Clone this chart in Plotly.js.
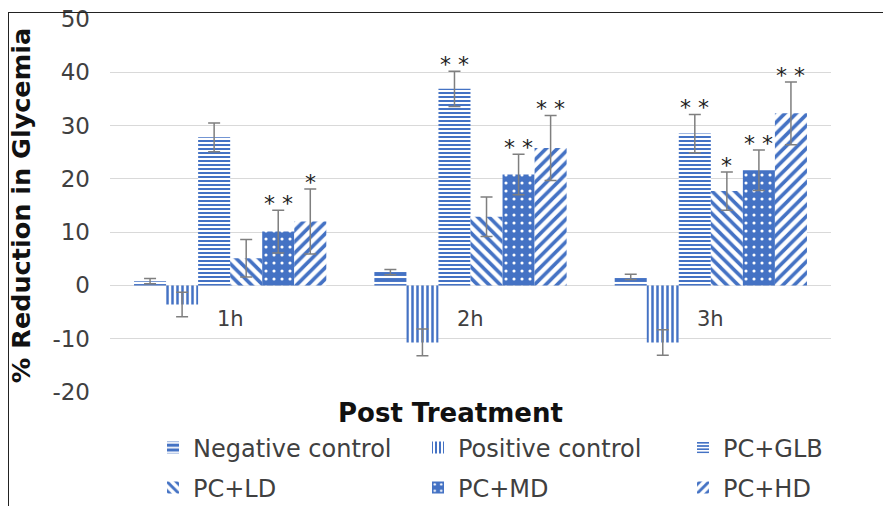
<!DOCTYPE html>
<html>
<head>
<meta charset="utf-8">
<script src="https://cdn.plot.ly/plotly-3.0.1.min.js"></script>
<style>
  html, body { margin: 0; padding: 0; background: #fff; overflow: hidden; }
  #wrap { position: relative; width: 883px; height: 506px; }
  #chart { position: absolute; left: 0; top: 0; width: 883px; height: 506px; }
  #frame { position: absolute; left: 8px; top: 12px; right: -2px; bottom: -2px;
           border-top: 1.5px solid #222; border-left: 1.5px solid #222; pointer-events: none; }
</style>
</head>
<body>
<div id="wrap"><div id="chart"></div><div id="frame"></div></div>
<script>
// ---- data ----
const categories = ['1h', '2h', '3h'];
const seriesNames = ['Negative control', 'Positive control', 'PC+GLB', 'PC+LD', 'PC+MD', 'PC+HD'];

const negValues = [0.8, 2.5, 1.6];
const negErrors = [0.5, 0.5, 0.5];
const posValues = [-3.6, -10.7, -10.7];
const posErrors = [2.3, 2.5, 2.4];
const glbValues = [27.8, 36.9, 28.5];
const glbErrors = [2.7, 3.3, 3.6];
const ldValues = [5.1, 12.9, 17.7];
const ldErrors = [3.5, 3.7, 3.6];
const mdValues = [10.1, 20.8, 21.6];
const mdErrors = [4.0, 3.8, 3.8];
const hdValues = [12.0, 25.8, 32.3];
const hdErrors = [6.1, 6.1, 5.9];

const negSig = ['', '', ''];
const posSig = ['', '', ''];
const glbSig = ['', '**', '**'];
const ldSig = ['', '', '*'];
const mdSig = ['**', '**', '**'];
const hdSig = ['*', '**', '**'];

const yTicks = [-20, -10, 0, 10, 20, 30, 40, 50];
const xTitle = 'Post Treatment';
const yTitle = '% Reduction in Glycemia';

// ---- styling ----
const FONT = 'DejaVu Sans, sans-serif';
const BLUE = '#4472C4';
const W = 883, H = 506;
const M = {l: 110, r: 52, t: 19, b: 114, autoexpand: false};
const BARGAP = 0.2;
const plotW = W - M.l - M.r;
const plotH = H - M.t - M.b;
const barPx = (plotW / categories.length) * (1 - BARGAP) / seriesNames.length;
const px2x = p => (p - M.l) / plotW;
const px2y = p => (H - M.b - p) / plotH;

const patterns = [
  {shape: '-', bgcolor: '#ffffff', fgcolor: BLUE, size: 6, solidity: 0.65},
  {shape: '|', bgcolor: '#ffffff', fgcolor: BLUE, size: 5, solidity: 0.5},
  {shape: '-', bgcolor: '#ffffff', fgcolor: BLUE, size: 4, solidity: 0.5},
  {shape: '\\', bgcolor: '#ffffff', fgcolor: BLUE, size: 8, solidity: 0.45},
  {shape: '.', bgcolor: BLUE, fgcolor: '#ffffff', size: 8, solidity: 0.12},
  {shape: '/', bgcolor: '#ffffff', fgcolor: BLUE, size: 8, solidity: 0.45}
];

const values = [negValues, posValues, glbValues, ldValues, mdValues, hdValues];
const errors = [negErrors, posErrors, glbErrors, ldErrors, mdErrors, hdErrors];
const sigs = [negSig, posSig, glbSig, ldSig, mdSig, hdSig];

const legendNames = ['legend', 'legend2', 'legend3', 'legend4', 'legend5', 'legend6'];

const traces = seriesNames.map((name, i) => ({
  type: 'bar',
  name: name,
  x: categories,
  y: values[i],
  legend: legendNames[i],
  marker: {color: BLUE, line: {width: 0}, pattern: patterns[i]},
  error_y: {type: 'data', array: errors[i], visible: true, color: '#7f7f7f', thickness: 1.5, width: 6}
}));

// significance stars
const annotations = [];
seriesNames.forEach((name, i) => {
  categories.forEach((c, j) => {
    if (sigs[i][j]) {
      annotations.push({
        xref: 'x', yref: 'y', x: c, y: values[i][j] + errors[i][j],
        xshift: (i - (seriesNames.length - 1) / 2) * barPx,
        yanchor: 'bottom', yshift: -8, showarrow: false,
        text: sigs[i][j].split('').join(' '),
        font: {family: FONT, size: 22, color: '#222'}
      });
    }
  });
});
// category labels just below the zero line
categories.forEach(c => {
  annotations.push({
    xref: 'x', yref: 'y', x: c, y: 0, yanchor: 'middle', yshift: -34, xshift: 0,
    showarrow: false, text: c,
    font: {family: FONT, size: 21, color: '#404040'}
  });
});
// x-axis title
annotations.push({
  xref: 'paper', yref: 'paper', x: px2x(450), y: px2y(413), xanchor: 'center', yanchor: 'middle',
  showarrow: false, text: '<b>' + xTitle + '</b>',
  font: {family: FONT, size: 26, color: '#111'}
});

// legends: 3 columns x 2 rows
const colX = [153, 418, 683];
const rowY = [448, 488];
const legends = {};
legendNames.forEach((ln, i) => {
  const col = i % 3, row = Math.floor(i / 3);
  legends[ln] = {
    x: px2x(colX[col]),
    y: px2y(rowY[row]),
    xanchor: 'left', yanchor: 'middle',
    bgcolor: 'rgba(0,0,0,0)',
    font: {family: FONT, size: 24, color: '#404040'}
  };
});

const layout = Object.assign({
  width: W, height: H,
  margin: M,
  paper_bgcolor: '#ffffff', plot_bgcolor: '#ffffff',
  barmode: 'group', bargap: BARGAP, bargroupgap: 0,
  showlegend: true,
  xaxis: {
    type: 'category', showticklabels: false, showgrid: false, zeroline: false, showline: false, ticks: '',
    automargin: false
  },
  yaxis: {
    range: [-20, 50], tickvals: yTicks, ticktext: yTicks.map(String),
    automargin: false,
    showgrid: true, gridcolor: '#d9d9d9', gridwidth: 1,
    zeroline: true, zerolinecolor: '#d9d9d9', zerolinewidth: 1,
    showline: false, ticks: '', ticklabelstandoff: 19,
    tickfont: {family: FONT, size: 23, color: '#404040'},
    title: {text: '<b>' + yTitle + '</b>', standoff: 14, font: {family: FONT, size: 25.5, color: '#111'}}
  },
  annotations: annotations
}, legends);

Plotly.newPlot('chart', traces, layout, {displayModeBar: false, staticPlot: true});
</script>
</body>
</html>
